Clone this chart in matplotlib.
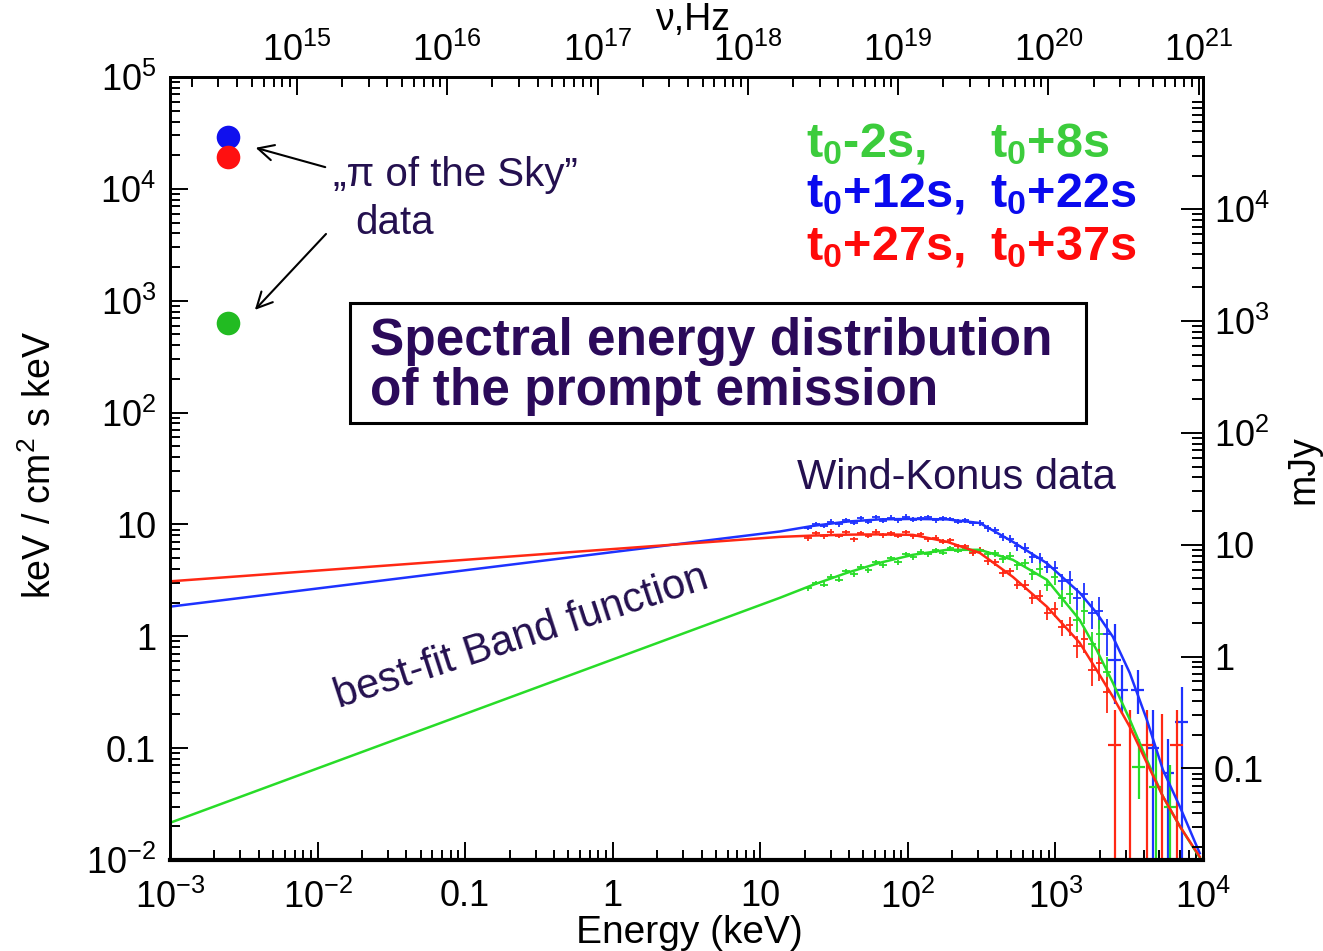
import numpy as np
import matplotlib
matplotlib.use('Agg')
import matplotlib.pyplot as plt
from matplotlib.ticker import FixedLocator, FixedFormatter, LogLocator, NullFormatter
from matplotlib.patches import Rectangle

plt.rcParams['font.family'] = ['Liberation Sans', 'DejaVu Sans']
plt.rcParams['mathtext.fontset'] = 'custom'
plt.rcParams['mathtext.rm'] = 'Liberation Sans'
plt.rcParams['mathtext.it'] = 'Liberation Sans:italic'
plt.rcParams['mathtext.bf'] = 'Liberation Sans:bold'

# best-fit Band functions (keV, keV/cm2 s keV)
fit_E = [1e-3, 13.6, 22.7, 38.6, 64.6, 108, 184, 307, 514, 875,
         1460, 1900, 2450, 3190, 4160, 5350, 6970, 9500]
blue_fit = [1.84, 8.65, 9.7, 10.6, 11.1, 11.2, 11.1, 10.3, 7.0, 4.5,
            2.45, 1.62, 0.99, 0.47, 0.18, 0.064, 0.030, 0.0115]
red_fit = [3.1, 7.74, 7.95, 8.1, 8.15, 8.07, 7.0, 5.57, 3.40, 1.84,
           0.875, 0.50, 0.288, 0.155, 0.074, 0.037, 0.020, 0.0107]
green_fit = [0.0215, 2.21, 2.88, 3.69, 4.54, 5.35, 5.93, 5.93, 4.83, 3.20,
             1.40, 0.757, 0.384, 0.18, 0.079, 0.037, 0.020, 0.0105]

# Wind-Konus channels
kon_E = [21, 24, 27, 30, 34, 38, 43, 48, 54, 61, 68, 77, 86, 97, 109, 122,
         137, 154, 173, 194, 218, 245, 275, 309, 347, 390, 438, 492, 553,
         621, 697, 783, 880, 988, 1110, 1247, 1400, 1573, 1767, 1984, 2229]
kon_err = [0.05] * 22 + [0.06, 0.06, 0.07, 0.07, 0.08, 0.08, 0.09, 0.10,
                         0.11, 0.12, 0.13, 0.15, 0.17, 0.19, 0.22, 0.25,
                         0.28, 0.32, 0.36]
blue_kon = [9.3, 10.1, 9.7, 10.6, 10.0, 10.9, 10.3, 11.3, 10.6, 11.6, 10.8,
            11.5, 10.9, 11.7, 11.0, 11.4, 11.6, 10.9, 11.3, 11.2, 10.6, 10.9,
            10.2, 10.4, 9.2, 8.9, 7.7, 7.4, 6.4, 6.2, 5.1, 5.0, 4.2, 4.1,
            3.1, 3.2, 2.2, 2.4, 1.6, 1.7, 1.05]
red_kon = [7.5, 8.3, 7.8, 8.6, 7.9, 8.5, 7.4, 8.4, 7.9, 8.6, 8.0, 8.3, 7.9,
           8.5, 7.8, 8.2, 7.4, 7.6, 7.0, 7.2, 6.4, 6.4, 5.6, 5.9, 4.7, 4.6,
           3.7, 3.8, 2.9, 2.9, 2.2, 2.3, 1.6, 1.75, 1.2, 1.25, 0.82, 0.95,
           0.5, 0.58, 0.32]
green_kon = [2.7, 3.0, 2.9, 3.4, 3.2, 3.8, 3.6, 4.2, 3.9, 4.6, 4.3, 5.0, 4.6,
             5.4, 5.1, 5.7, 5.4, 5.9, 5.6, 6.1, 5.8, 6.1, 5.7, 5.8, 5.4, 5.5,
             4.9, 5.2, 4.3, 4.5, 3.6, 4.0, 2.9, 3.4, 2.2, 2.4, 1.4, 1.7,
             0.85, 1.05, 0.48]

# sparse high-energy channels: centre, lower and upper bounds
blue_hiE = [2520, 2820, 3610, 4570, 5770, 7180]
blue_hiF = [0.62, 0.33, 0.33, 0.10, 0.06, 0.17]
blue_hiLo = [0.25, 0.20, 0.20, 0.004, 0.004, 0.004]
blue_hiHi = [1.30, 0.55, 0.50, 0.22, 0.12, 0.35]
red_hiE = [2520, 3190, 4160, 5260, 6640]
red_hiF = [0.107, 0.003, 0.107, 0.003, 0.107]
red_hiLo = [0.003, 0.002, 0.003, 0.002, 0.003]
red_hiHi = [0.22, 0.22, 0.22, 0.20, 0.22]
green_hiE = [3690, 4800, 6000]
green_hiF = [0.068, 0.045, 0.030]
green_hiLo = [0.035, 0.004, 0.004]
green_hiHi = [0.12, 0.10, 0.07]

# "Pi of the Sky" optical points
pi_E = 0.00247
pi_F = {'blue': 29100, 'red': 19300, 'green': 634}

xticks = [1e-3, 1e-2, 0.1, 1, 10, 1e2, 1e3, 1e4]
xlabels = [r'$10^{-3}$', r'$10^{-2}$', '0.1', '1', '10', r'$10^{2}$',
           r'$10^{3}$', r'$10^{4}$']
yticks = [1e-2, 0.1, 1, 10, 1e2, 1e3, 1e4, 1e5]
ylabels = [r'$10^{-2}$', '0.1', '1', '10', r'$10^{2}$', r'$10^{3}$',
           r'$10^{4}$', r'$10^{5}$']
nu_ticks = [1e15, 1e16, 1e17, 1e18, 1e19, 1e20, 1e21]
nu_labels = [r'$10^{%d}$' % k for k in range(15, 22)]
mjy_ticks = [0.1, 1, 10, 1e2, 1e3, 1e4]
mjy_labels = ['0.1', '1', '10', r'$10^{2}$', r'$10^{3}$', r'$10^{4}$']
mjy_factor = 1.52

c_blue = '#1e32ff'
c_red = '#ff2814'
c_green = '#28dc28'
c_text = '#24104f'

fig = plt.figure(figsize=(13.23, 9.51), dpi=100)
ax = fig.add_axes([170 / 1323, 1 - 860 / 951, 1033 / 1323, 783 / 951])
ax.set_xscale('log')
ax.set_yscale('log')
ax.set_xlim(1e-3, 1e4)
ax.set_ylim(1e-2, 1e5)

kE = np.array(kon_E, float)
lg = np.log10(kE)
half = np.empty_like(lg)
half[1:-1] = (lg[2:] - lg[:-2]) / 4
half[0] = (lg[1] - lg[0]) / 2
half[-1] = (lg[-1] - lg[-2]) / 2
xlo = kE - 10 ** (lg - half)
xhi = 10 ** (lg + half) - kE
rel = np.array(kon_err)

for kon, hiE, hiF, hiLo, hiHi, c in [
        (blue_kon, blue_hiE, blue_hiF, blue_hiLo, blue_hiHi, c_blue),
        (green_kon, green_hiE, green_hiF, green_hiLo, green_hiHi, c_green),
        (red_kon, red_hiE, red_hiF, red_hiLo, red_hiHi, c_red)]:
    F = np.array(kon)
    ax.errorbar(kE, F, yerr=[F * rel, F * rel], xerr=[xlo, xhi], fmt='none',
                ecolor=c, elinewidth=1.3)
    hE = np.array(hiE, float)
    hF = np.array(hiF)
    ax.errorbar(hE, hF, yerr=[hF - np.array(hiLo), np.array(hiHi) - hF],
                xerr=[hE * 0.1, hE * 0.1], fmt='none', ecolor=c,
                elinewidth=1.6)

ax.plot(fit_E, blue_fit, color=c_blue, lw=1.8)
ax.plot(fit_E, green_fit, color=c_green, lw=1.8)
ax.plot(fit_E, red_fit, color=c_red, lw=1.8)

ax.plot(pi_E, pi_F['blue'], 'o', ms=17, color='#1010ee', mec='none')
ax.plot(pi_E, pi_F['red'], 'o', ms=17, color='#ff1010', mec='none')
ax.plot(pi_E, pi_F['green'], 'o', ms=17, color='#22bb22', mec='none')

arrow = dict(arrowstyle='->', color='black', lw=1.5, mutation_scale=28)
ax.annotate('', xy=(0.00365, 23650), xytext=(0.01175, 15400),
            arrowprops=arrow)
ax.annotate('', xy=(0.00365, 794), xytext=(0.01175, 4120), arrowprops=arrow)

ax.text(0.158, 0.875, '\u201e\u03c0 of the Sky\u201d', transform=ax.transAxes,
        fontsize=29, color=c_text, va='center')
ax.text(0.179, 0.8135, 'data', transform=ax.transAxes, fontsize=29,
        color=c_text, va='center')
ax.text(0.607, 0.488, 'Wind-Konus data', transform=ax.transAxes,
        fontsize=30, color=c_text, va='center')
ax.text(0.340, 0.285, 'best-fit Band function', transform=ax.transAxes,
        fontsize=30, color=c_text, ha='center', va='center', rotation=18)

ax.add_patch(Rectangle((0.174, 0.558), 0.713, 0.153, transform=ax.transAxes,
                       fill=False, ec='black', lw=2.2, zorder=5))
ax.text(0.1936, 0.645, 'Spectral energy distribution',
        transform=ax.transAxes, fontsize=37, fontweight='bold',
        color='#2b0a5a', va='baseline')
ax.text(0.1936, 0.581, 'of the prompt emission', transform=ax.transAxes,
        fontsize=37, fontweight='bold', color='#2b0a5a', va='baseline')

legend_rows = [
    (0.898, r'$\mathbf{t_0}$-2s,', r'$\mathbf{t_0}$+8s', '#3ccc3c'),
    (0.834, r'$\mathbf{t_0}$+12s,', r'$\mathbf{t_0}$+22s', '#0a0aee'),
    (0.766, r'$\mathbf{t_0}$+27s,', r'$\mathbf{t_0}$+37s', '#ff0a0a'),
]
for yb, s1, s2, c in legend_rows:
    ax.text(0.6157, yb, s1, transform=ax.transAxes, fontsize=35,
            fontweight='bold', color=c, va='baseline')
    ax.text(0.794, yb, s2, transform=ax.transAxes, fontsize=35,
            fontweight='bold', color=c, va='baseline')

ax.xaxis.set_major_locator(FixedLocator(xticks))
ax.xaxis.set_major_formatter(FixedFormatter(xlabels))
ax.xaxis.set_minor_locator(LogLocator(subs=np.arange(2, 10), numticks=20))
ax.xaxis.set_minor_formatter(NullFormatter())
ax.yaxis.set_major_locator(FixedLocator(yticks))
ax.yaxis.set_major_formatter(FixedFormatter(ylabels))
ax.yaxis.set_minor_locator(LogLocator(subs=np.arange(2, 10), numticks=20))
ax.yaxis.set_minor_formatter(NullFormatter())
ax.tick_params(which='both', direction='in', labelsize=26, width=1.4)
ax.tick_params(axis='x', which='major', length=13, pad=14)
ax.tick_params(axis='y', which='major', length=13, pad=10)
ax.tick_params(which='minor', length=7)
for sp in ax.spines.values():
    sp.set_linewidth(2)
ax.spines['bottom'].set_linewidth(3)


def e2nu(e):
    return 10 ** (14.155 + 0.982 * (np.log10(e) + 3))


def nu2e(nu):
    return 10 ** ((np.log10(nu) - 14.155) / 0.982 - 3)


sec = ax.secondary_xaxis('top', functions=(e2nu, nu2e))
sec.xaxis.set_major_locator(FixedLocator(nu_ticks))
sec.xaxis.set_major_formatter(FixedFormatter(nu_labels))
sec.xaxis.set_minor_locator(LogLocator(subs=np.arange(2, 10), numticks=20))
sec.xaxis.set_minor_formatter(NullFormatter())
sec.tick_params(which='both', direction='in', labelsize=26, width=1.4)
sec.tick_params(which='major', length=13, pad=6)
sec.tick_params(which='minor', length=7)

ax2 = ax.twinx()
ax2.set_yscale('log')
ax2.set_ylim(1e-2 * mjy_factor, 1e5 * mjy_factor)
ax2.yaxis.set_major_locator(FixedLocator(mjy_ticks))
ax2.yaxis.set_major_formatter(FixedFormatter(mjy_labels))
ax2.yaxis.set_minor_locator(LogLocator(subs=np.arange(2, 10), numticks=20))
ax2.yaxis.set_minor_formatter(NullFormatter())
ax2.tick_params(which='both', direction='in', labelsize=26, width=1.4)
ax2.tick_params(which='major', length=16, pad=8)
ax2.tick_params(which='minor', length=8)
for sp in ax2.spines.values():
    sp.set_linewidth(2)

fig.text(689 / 1323, 1 - 933 / 951, 'Energy (keV)', ha='center', va='center',
         fontsize=28)
fig.text(40 / 1323, 1 - 465 / 951, r'keV / cm$^2$ s keV', ha='center',
         va='center', rotation=90, fontsize=27)
fig.text(1303 / 1323, 1 - 470 / 951, 'mJy', ha='center', va='center',
         rotation=90, fontsize=27)
fig.text(693 / 1323, 1 - 20 / 951, '\u03bd,Hz', ha='center', va='center',
         fontsize=27)

fig.savefig('out.png', dpi=100)
